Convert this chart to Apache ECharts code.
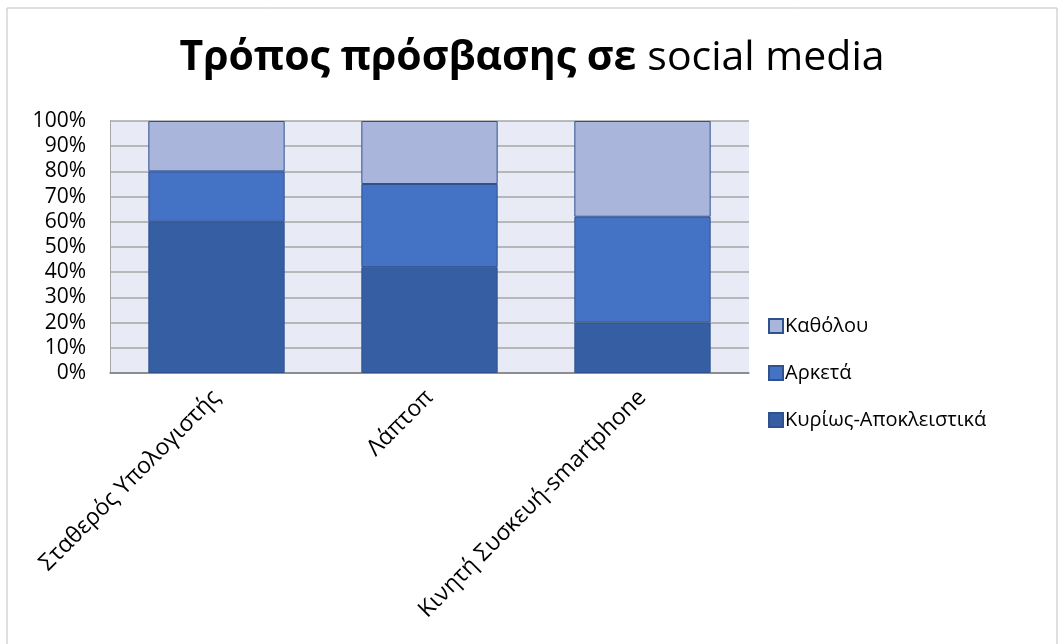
<!DOCTYPE html>
<html>
<head>
<meta charset="utf-8">
<script src="https://cdn.jsdelivr.net/npm/echarts@6/dist/echarts.min.js"></script>
<style>
  html, body { margin: 0; padding: 0; background: #fff; }
  #chart { width: 1064px; height: 644px; }
</style>
</head>
<body>
<div id="chart"></div>
<script>
    'use strict';

    var categories = ['Σταθερός Υπολογιστής', 'Λάπτοπ', 'Κινητή Συσκευή-smartphone'];
    var kyrios = [60, 42, 20];
    var arketa = [20, 33, 42];
    var katholou = [20, 25, 38];
    var yTicks = [0, 10, 20, 30, 40, 50, 60, 70, 80, 90, 100];

    var font = '"Open Sans", "Noto Sans", sans-serif';

    var chart = echarts.init(document.getElementById('chart'));

    function bar(name, data, color) {
        return {
            name: name,
            type: 'bar',
            stack: 'total',
            data: data,
            barCategoryGap: '36%',
            itemStyle: { color: color, borderColor: '#2F528F', borderWidth: 1 }
        };
    }

    chart.setOption({
        animation: false,
        graphic: [{
            type: 'rect',
            shape: { x: 7, y: 8, width: 1050, height: 660 },
            style: { fill: 'none', stroke: '#BFBFBF', lineWidth: 1 },
            silent: true
        }],
        title: {
            text: '{b|Τρόπος πρόσβασης σε}{r|social media}',
            left: 'center',
            top: 33,
            textStyle: {
                rich: {
                    b: { fontFamily: font, fontWeight: 'bold', fontSize: 41, color: '#000', padding: [0, 11, 0, 0] },
                    r: { fontFamily: font, fontWeight: 'normal', fontSize: 41, color: '#000' }
                }
            }
        },
        legend: {
            orient: 'vertical',
            left: 763,
            top: 311,
            itemGap: 27,
            itemWidth: 14,
            itemHeight: 14,
            icon: 'rect',
            data: ['Καθόλου', 'Αρκετά', 'Κυρίως-Αποκλειστικά'],
            textStyle: { fontFamily: font, fontSize: 20, color: '#000', padding: [0, 0, 0, -3] }
        },
        grid: {
            left: 110,
            right: 315,
            top: 121,
            bottom: 271,
            show: true,
            backgroundColor: '#E8EAF6',
            borderWidth: 0,
            containLabel: false
        },
        xAxis: {
            type: 'category',
            data: categories,
            axisLine: { show: true, lineStyle: { color: '#808080', width: 1.5 } },
            axisTick: { show: false },
            axisLabel: {
                rotate: 45,
                margin: 21,
                interval: 0,
                fontFamily: font,
                fontSize: 23,
                color: '#000'
            }
        },
        yAxis: {
            type: 'value',
            min: 0,
            max: 100,
            interval: 10,
            axisLine: { show: true, lineStyle: { color: '#A6A6A6' } },
            axisTick: { show: false },
            splitLine: { show: true, lineStyle: { color: '#A6A6A6', width: 1.5 } },
            axisLabel: {
                margin: 24,
                fontFamily: font,
                fontSize: 21,
                color: '#000',
                formatter: function(v) {
                    return yTicks.indexOf(v) >= 0 ? v + '%' : '';
                }
            }
        },
        series: [
            bar('Κυρίως-Αποκλειστικά', kyrios, '#365EA2'),
            bar('Αρκετά', arketa, '#4472C4'),
            bar('Καθόλου', katholou, '#A9B5DA')
        ]
    });
</script>
</body>
</html>
